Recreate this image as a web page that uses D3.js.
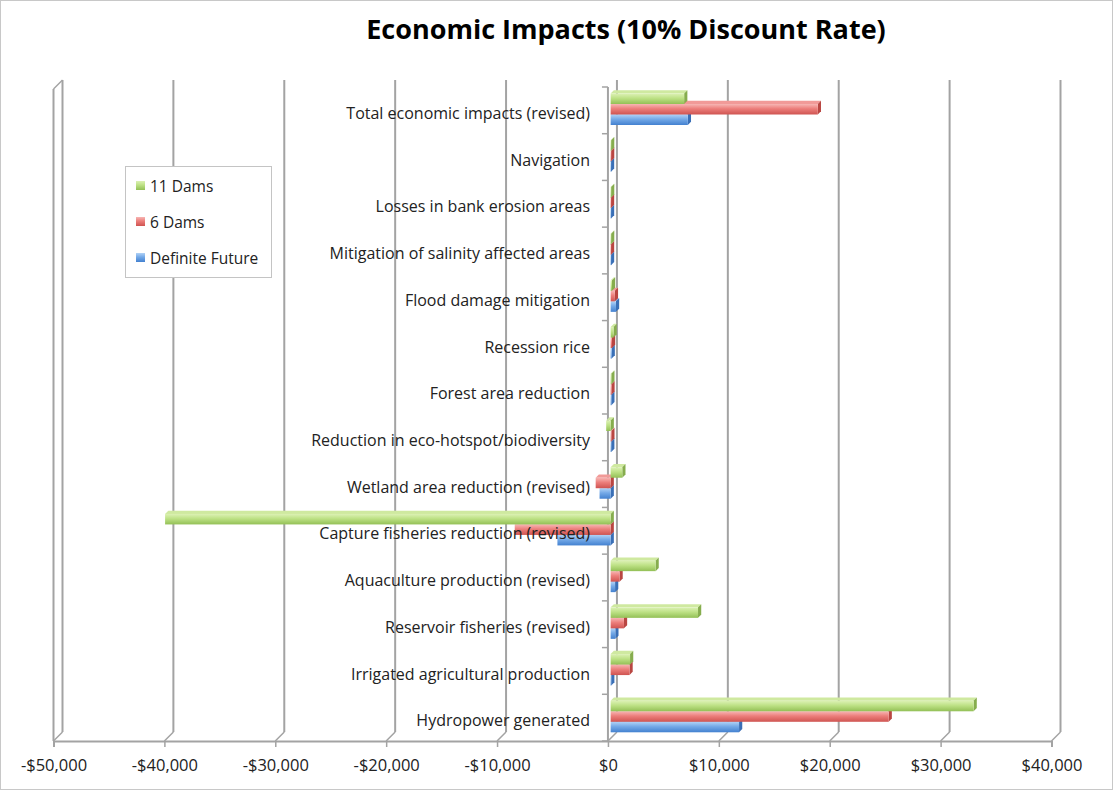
<!DOCTYPE html>
<html>
<head>
<meta charset="utf-8">
<script src="https://cdn.jsdelivr.net/npm/d3@7"></script>
<style>
  html, body { margin: 0; padding: 0; background: #fff; }
  svg { display: block; }
</style>
</head>
<body>
<svg id="chart" width="1113" height="790"></svg>
<script>
const categories = [
  "Total economic impacts (revised)",
  "Navigation",
  "Losses in bank erosion areas",
  "Mitigation of salinity affected areas",
  "Flood damage mitigation",
  "Recession rice",
  "Forest area reduction",
  "Reduction in eco-hotspot/biodiversity",
  "Wetland area reduction (revised)",
  "Capture fisheries reduction (revised)",
  "Aquaculture production (revised)",
  "Reservoir fisheries (revised)",
  "Irrigated agricultural production",
  "Hydropower generated"
];
const seriesNames = ["11 Dams", "6 Dams", "Definite Future"];
const dams11 = [6630, 40, 40, 40, 120, 260, 60, -400, 1050, -40180, 4050, 7880, 1750, 32730];
const dams6 = [18680, 40, 30, 30, 380, 120, 70, 60, -1350, -8650, 800, 1200, 1700, 25070];
const definiteFuture = [6960, 30, 30, 30, 480, 90, 60, 50, -1000, -4800, 400, 420, 50, 11580];
const xTicks = [-50000, -40000, -30000, -20000, -10000, 0, 10000, 20000, 30000, 40000];
const tickLabels = ["-$50,000", "-$40,000", "-$30,000", "-$20,000", "-$10,000", "$0", "$10,000", "$20,000", "$30,000", "$40,000"];

const svg = d3.select("#chart");
const W = 1113, H = 790;
const font = "'Open Sans', Lato, sans-serif";

// outer border
svg.append("rect").attr("x", 0.5).attr("y", 0.5).attr("width", W - 1).attr("height", H - 1)
  .attr("fill", "#fff").attr("stroke", "#c8c8c8");

// title
svg.append("text").attr("x", 626).attr("y", 30).attr("dy", "0.35em")
  .attr("text-anchor", "middle").attr("font-family", font).attr("font-weight", "bold")
  .attr("font-size", 27).attr("fill", "#000").text("Economic Impacts (10% Discount Rate)");

// scales
const x = d3.scaleLinear().domain([-50000, 40000]).range([53.5, 1051.5]);
const y = d3.scaleBand().domain(categories).range([87, 741]).padding(0);
const DX = 9, DY = -9;          // depth offset of back wall
const floorY = 741, topY = 80;
const gridColor = "#a3a3a3";

const g = svg.append("g");

// back gridlines (vertical)
g.selectAll("line.grid").data(xTicks).join("line").attr("class", "grid")
  .attr("x1", d => x(d) + DX).attr("x2", d => x(d) + DX)
  .attr("y1", topY).attr("y2", floorY + DY)
  .attr("stroke", gridColor).attr("stroke-width", 2);

// floor diagonals
g.selectAll("line.diag").data(xTicks).join("line").attr("class", "diag")
  .attr("x1", d => x(d)).attr("x2", d => x(d) + DX)
  .attr("y1", floorY).attr("y2", floorY + DY)
  .attr("stroke", gridColor).attr("stroke-width", 1.5);

// left wall front edge & top
g.append("line").attr("x1", x(-50000)).attr("x2", x(-50000)).attr("y1", topY - DY).attr("y2", floorY)
  .attr("stroke", gridColor).attr("stroke-width", 2);
g.append("line").attr("x1", x(-50000)).attr("x2", x(-50000) + DX).attr("y1", topY - DY).attr("y2", topY)
  .attr("stroke", gridColor).attr("stroke-width", 1.5);

// floor front line with ticks
const xAxis = d3.axisBottom(x).tickValues(xTicks).tickSize(6).tickFormat((d, i) => tickLabels[i]);
const ax = svg.append("g").attr("transform", `translate(0,${floorY})`).call(xAxis);
ax.select(".domain").attr("stroke", gridColor).attr("stroke-width", 2);
ax.selectAll(".tick line").attr("stroke", gridColor).attr("stroke-width", 1.5);
ax.selectAll(".tick text").attr("font-family", font).attr("font-size", 16.5).attr("fill", "#222")
  .attr("y", 18);

// category axis line and ticks at band boundaries
const bounds = categories.map(c => y(c)).concat([floorY]);
g.append("line").attr("x1", x(0)).attr("x2", x(0)).attr("y1", 87).attr("y2", floorY)
  .attr("stroke", gridColor).attr("stroke-width", 2);
g.selectAll("line.ctick").data(bounds).join("line").attr("class", "ctick")
  .attr("x1", x(0) - 6).attr("x2", x(0)).attr("y1", d => d).attr("y2", d => d)
  .attr("stroke", gridColor).attr("stroke-width", 1.5);

// gradients
const defs = svg.append("defs");
const palettes = [
  { top: "#dcf1b4", mid: "#bde185", bot: "#93c056", cap: "#86ad4e", lid: "#cfe9a0" },
  { top: "#f7b6b4", mid: "#ec7e7b", bot: "#cf5451", cap: "#b94642", lid: "#f19a98" },
  { top: "#b1d2f6", mid: "#74a9e7", bot: "#4381d0", cap: "#3a6fb6", lid: "#93bdf0" }
];
palettes.forEach((p, i) => {
  const lg = defs.append("linearGradient").attr("id", "grad" + i)
    .attr("x1", 0).attr("y1", 0).attr("x2", 0).attr("y2", 1);
  lg.append("stop").attr("offset", "0%").attr("stop-color", p.top);
  lg.append("stop").attr("offset", "45%").attr("stop-color", p.mid);
  lg.append("stop").attr("offset", "100%").attr("stop-color", p.bot);
});

// bars
const seriesData = [dams11, dams6, definiteFuture];
const barOff = [6.5, 17, 27.5];
const barH = 10.5;
const D = 3.2;
const xb = v => x(v) + 2.7;
const barsG = svg.append("g");
// draw bottom-to-top within each category: blue, red, green
categories.forEach((cat, ci) => {
  [2, 1, 0].forEach(si => {
    const v = seriesData[si][ci];
    const p = palettes[si];
    const x0 = Math.min(xb(0), xb(v)), x1 = Math.max(xb(0), xb(v));
    const yt = y(cat) + barOff[si], yb = yt + barH;
    const bg = barsG.append("g");
    // top face
    bg.append("polygon").attr("points", [[x0, yt], [x0 + D, yt - D], [x1 + D, yt - D], [x1, yt]].join(" "))
      .attr("fill", p.lid);
    // right cap
    bg.append("polygon").attr("points", [[x1, yt], [x1 + D, yt - D], [x1 + D, yb - D], [x1, yb]].join(" "))
      .attr("fill", p.cap);
    // front
    bg.append("rect").attr("x", x0).attr("y", yt).attr("width", Math.max(0.5, x1 - x0)).attr("height", barH)
      .attr("fill", `url(#grad${si})`);
  });
});

// category labels
svg.append("g").selectAll("text").data(categories).join("text")
  .attr("x", 590).attr("y", d => y(d) + y.bandwidth() / 2 + 3).attr("dy", "0.35em")
  .attr("text-anchor", "end").attr("font-family", font).attr("font-size", 16).attr("fill", "#222")
  .text(d => d);

// legend
const lg = svg.append("g");
lg.append("rect").attr("x", 125.5).attr("y", 166.5).attr("width", 146).attr("height", 111)
  .attr("fill", "#fff").attr("stroke", "#c4c4c4");
seriesNames.forEach((n, i) => {
  const cy = 187 + i * 36;
  lg.append("rect").attr("x", 136).attr("y", cy - 6).attr("width", 9).attr("height", 9)
    .attr("fill", `url(#grad${i})`);
  lg.append("text").attr("x", 150).attr("y", cy).attr("dy", "0.35em")
    .attr("font-family", font).attr("font-size", 15.5).attr("fill", "#222").text(n);
});
</script>
</body>
</html>
